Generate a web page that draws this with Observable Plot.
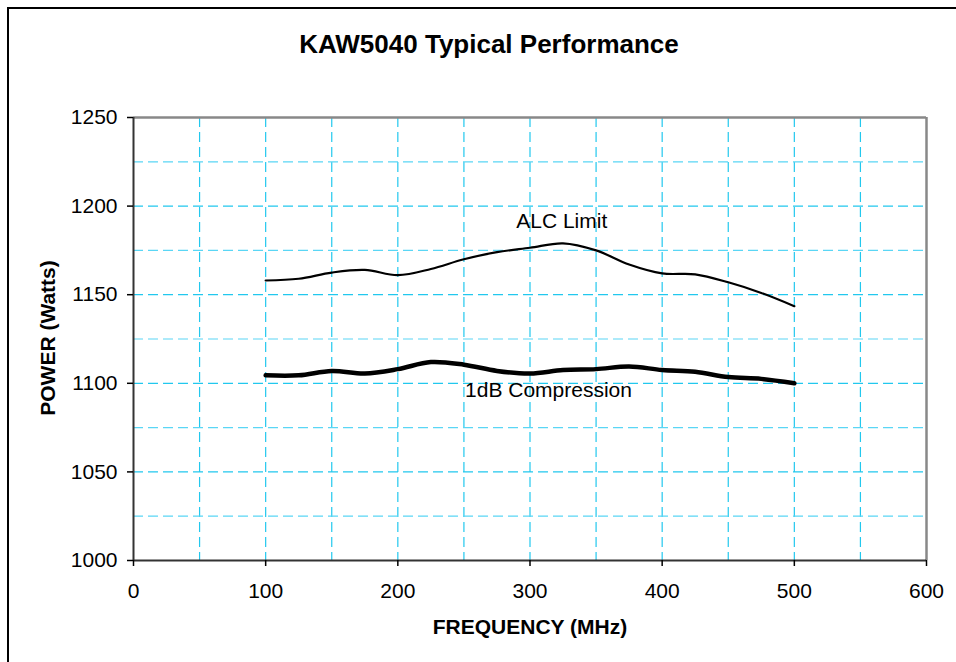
<!DOCTYPE html>
<html><head><meta charset="utf-8">
<script src="https://cdn.jsdelivr.net/npm/d3@7"></script>
<script src="https://cdn.jsdelivr.net/npm/@observablehq/plot@0.6"></script>
<style>
html,body{margin:0;padding:0;background:#fff;overflow:hidden;}
body{font-family:"Liberation Sans",Arial,sans-serif;color:#000;}
#wrap{position:relative;width:956px;height:662px;overflow:hidden;}
#frame{position:absolute;left:7px;top:7px;width:1000px;height:700px;border-left:2px solid #000;border-top:2px solid #000;}
#chart{position:absolute;left:0;top:0;}
.t{position:absolute;white-space:nowrap;line-height:1;}
#title{left:0;width:978px;top:31px;text-align:center;font-weight:bold;font-size:26px;}
#xlabel{left:0;width:1060px;top:616px;text-align:center;font-weight:bold;font-size:21px;}
#ylabel{left:47px;top:338px;font-weight:bold;font-size:21px;transform:translate(-50%,-50%) rotate(-90deg);}
</style>
</head><body>
<div id="wrap">
  <div id="frame"></div>
  <div id="chart"></div>
  <div class="t" id="title">KAW5040 Typical Performance</div>
  <div class="t" id="xlabel">FREQUENCY (MHz)</div>
  <div class="t" id="ylabel">POWER (Watts)</div>
</div>
<script>
// Data
const frequency = [100,125,150,175,200,225,250,275,300,325,350,375,400,425,450,475,500];
const alcLimit  = [1158,1159,1162.5,1164,1161,1164.5,1170,1174,1176.5,1179,1175,1167,1162,1161.5,1157,1151,1143.5];
const compression1dB = [1104.5,1104.5,1107,1105.5,1108,1112,1110.5,1107,1105.5,1107.5,1108,1109.5,1107.5,1106.5,1103.5,1102.5,1100];

const xTicks = [0,100,200,300,400,500,600];
const yTicks = [1000,1050,1100,1150,1200,1250];
const xGrid = [50,100,150,200,250,300,350,400,450,500,550];
const yGridMajor = [1050,1100,1150,1200];
const yGridMinor = [1025,1075,1125,1175,1225];

const seriesLabels = ["ALC Limit","1dB Compression"];
const labelX = [324,314];
const labelY = [1191.7,1095.8];

const alcData = frequency.map((f,i)=>({f, p: alcLimit[i]}));
const compData = frequency.map((f,i)=>({f, p: compression1dB[i]}));
const labels = seriesLabels.map((s,i)=>({s, x: labelX[i], y: labelY[i]}));

const grid = {stroke:"#22c8ee", strokeWidth:1.2, strokeDasharray:"10,5"};

const chart = Plot.plot({
  width: 956,
  height: 662,
  marginLeft: 133,
  marginRight: 30,
  marginTop: 117,
  marginBottom: 102,
  style: {fontFamily:'"Liberation Sans", Arial, sans-serif', fontSize:"21px", color:"#000", background:"transparent", overflow:"visible"},
  x: {domain:[0,600]},
  y: {domain:[1000,1250]},
  marks: [
    Plot.ruleX(xGrid, grid),
    Plot.ruleY(yGridMajor, grid),
    Plot.ruleY(yGridMinor, {...grid, stroke:"#5ad6f5"}),
    Plot.ruleY([1250], {stroke:"#888", strokeWidth:2.5}),
    Plot.ruleX([600], {stroke:"#888", strokeWidth:2.5}),
    Plot.ruleY([1000], {stroke:"#333", strokeWidth:2}),
    Plot.ruleX([0], {stroke:"#333", strokeWidth:2}),
    Plot.axisX({ticks: xTicks, tickSize: 6, tickPadding: 17, label: null, strokeWidth: 1.5, fontSize: 21}),
    Plot.axisY({ticks: yTicks, tickSize: 6, tickPadding: 10, label: null, strokeWidth: 1.5, fontSize: 21, tickFormat: d => String(d)}),
    Plot.line(alcData, {x:"f", y:"p", stroke:"#000", strokeWidth:2.2, curve:"catmull-rom"}),
    Plot.line(compData, {x:"f", y:"p", stroke:"#000", strokeWidth:4.5, curve:"catmull-rom"}),
    Plot.text(labels, {x:"x", y:"y", text:"s", fontSize:21, fill:"#000", textAnchor:"middle", lineAnchor:"middle"})
  ]
});
document.getElementById("chart").appendChild(chart);
</script>
</body></html>
